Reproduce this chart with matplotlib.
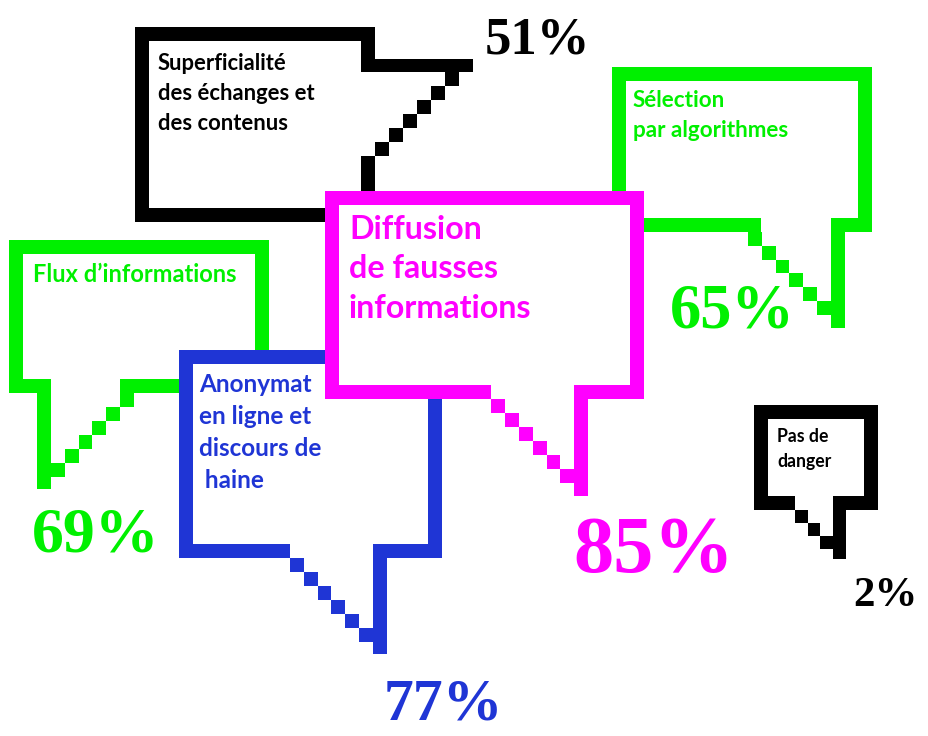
import matplotlib
matplotlib.use("Agg")
import matplotlib.pyplot as plt
from matplotlib.patches import Rectangle

# survey answers: theme label, share of respondents (%), colour
labels = [
    "Superficialité\ndes échanges et\ndes contenus",
    "Flux d’informations",
    "Sélection\npar algorithmes",
    "Anonymat\nen ligne et\ndiscours de\n haine",
    "Diffusion\nde fausses\ninformations",
    "Pas de\ndanger",
]
values = [51, 69, 65, 77, 85, 2]
colors = ["#000000", "#00f000", "#00f000", "#1f35d5", "#ff00ff", "#000000"]

# layout of each speech bubble, in pixels (y grows downwards)
# box = outer frame (left, top, right, bottom)
# gap = (side, start, end) opening in the frame where the tail leaves
# stem = straight edge of the tail (x0, y0, x1, y1)
# stairs = first square (x, y), step (dx, dy), count
layout = [
    dict(box=(135, 27, 375, 222), gap=("right", 72, 156), stem=(362, 59, 473, 72),
         stairs=(445, 72, -13.9, 14, 6), text=(158, 70, 30, 15.8), pct=(537, 54, 38)),
    dict(box=(9, 240, 269, 393), gap=("bottom", 51, 120), stem=(37, 379, 51, 489),
         stairs=(120, 393, -13.8, 14, 6), text=(33, 282, 30, 17), pct=(96, 551, 46)),
    dict(box=(612, 67, 872, 232), gap=("bottom", 761, 831), stem=(831, 218, 845, 328),
         stairs=(748, 232, 13.8, 13.8, 6), text=(633, 107, 30, 16.2), pct=(732, 328, 45)),
    dict(box=(179, 350, 442, 558), gap=("bottom", 290, 373), stem=(373, 545, 387, 654),
         stairs=(290, 558, 13.8, 14, 6), text=(199, 392, 32, 17.5), pct=(443, 720, 43)),
    dict(box=(325, 191, 644, 399), gap=("bottom", 491, 574), stem=(574, 386, 588, 496),
         stairs=(491, 399, 13.9, 14, 6), text=(349, 239, 39.5, 23.2), pct=(654, 572, 58)),
    dict(box=(754, 405, 878, 510), gap=("bottom", 795, 833), stem=(833, 497, 846, 559),
         stairs=(795, 510, 12.7, 13, 3), text=(777, 442, 25, 12.7), pct=(885, 606, 31)),
]
STROKE = 14

LABEL_FONT = ["Lato", "DejaVu Sans"]
VALUE_FONT = ["Liberation Serif", "DejaVu Serif"]


def rect(ax, x0, y0, x1, y1, color, z):
    ax.add_patch(Rectangle((x0, y0), x1 - x0, y1 - y0, facecolor=color,
                           edgecolor="none", linewidth=0, zorder=z))


def draw_bubble(ax, spec, color, z):
    L, T, R, B = spec["box"]
    w = STROKE
    side, g0, g1 = spec["gap"]
    # white body hides whatever lies behind
    rect(ax, L, T, R, B, "white", z)
    # frame
    rect(ax, L, T, R, T + w, color, z + 0.1)
    rect(ax, L, T, L + w, B, color, z + 0.1)
    if side == "right":
        rect(ax, R - w, T, R, g0, color, z + 0.1)
        rect(ax, R - w, g1, R, B, color, z + 0.1)
    else:
        rect(ax, R - w, T, R, B, color, z + 0.1)
    if side == "bottom":
        rect(ax, L, B - w, g0, B, color, z + 0.1)
        rect(ax, g1, B - w, R, B, color, z + 0.1)
    else:
        rect(ax, L, B - w, R, B, color, z + 0.1)
    # tail: straight edge + pixel staircase
    rect(ax, *spec["stem"], color, z + 0.1)
    sx, sy, dx, dy, n = spec["stairs"]
    for i in range(n):
        x = sx + i * dx
        y = sy + i * dy
        rect(ax, x, y, x + abs(dx), y + abs(dy), color, z + 0.1)


fig = plt.figure(figsize=(9.29, 7.36), dpi=100)
ax = fig.add_axes([0, 0, 1, 1])
ax.set_xlim(0, 929)
ax.set_ylim(736, 0)
ax.axis("off")

for i, (lab, val, col, spec) in enumerate(zip(labels, values, colors, layout)):
    z = 2 + i
    draw_bubble(ax, spec, col, z)
    tx, ty, gap, fs = spec["text"]
    for k, line in enumerate(lab.split("\n")):
        ax.text(tx, ty + k * gap, line, color=col, fontsize=fs,
                fontweight="bold", family=LABEL_FONT, ha="left",
                va="baseline", zorder=z + 0.5)
    px, py, pfs = spec["pct"]
    ax.text(px, py, f"{val}%", color=col, fontsize=pfs, fontweight="bold",
            family=VALUE_FONT, ha="center", va="baseline", zorder=20)

fig.savefig("out.png", dpi=100)
